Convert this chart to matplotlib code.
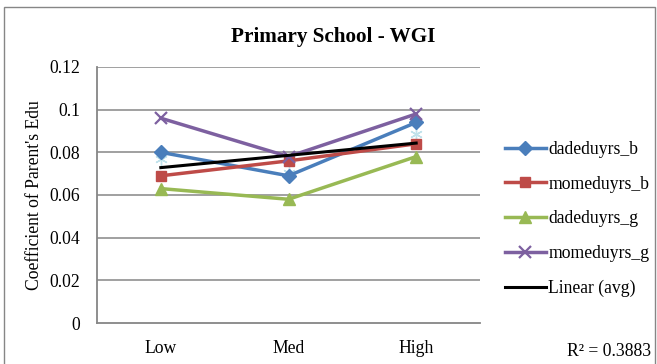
import numpy as np
import matplotlib
matplotlib.use("Agg")
import matplotlib.pyplot as plt
from matplotlib.patches import Rectangle

plt.rcParams['font.family'] = ['Liberation Serif', 'DejaVu Serif']

# Data
categories = ["Low", "Med", "High"]
dadeduyrs_b = [0.080, 0.069, 0.094]
momeduyrs_b = [0.069, 0.076, 0.084]
dadeduyrs_g = [0.063, 0.058, 0.078]
momeduyrs_g = [0.096, 0.078, 0.098]
series_names = ["dadeduyrs_b", "momeduyrs_b", "dadeduyrs_g", "momeduyrs_g"]
y_ticks = [0, 0.02, 0.04, 0.06, 0.08, 0.1, 0.12]
y_tick_labels = ["0", "0.02", "0.04", "0.06", "0.08", "0.1", "0.12"]

series = [dadeduyrs_b, momeduyrs_b, dadeduyrs_g, momeduyrs_g]
colors = ["#4A7EBB", "#BE4B48", "#98B954", "#7D60A0"]
markers = ["D", "s", "^", "x"]
msizes = [7, 7.5, 8.5, 9]

x = np.arange(1, len(categories) + 1)
avg = np.mean(np.array(series), axis=0)

# Linear trend on the average series
slope, intercept = np.polyfit(x, avg, 1)
trend = slope * x + intercept
ss_res = np.sum((avg - trend) ** 2)
ss_tot = np.sum((avg - avg.mean()) ** 2)
r2 = 1 - ss_res / ss_tot

FS = 12.7

fig = plt.figure(figsize=(6.57, 3.64), dpi=100)
ax = fig.add_axes([97 / 657, 41 / 364, 383 / 657, 256 / 364])

grid_color = "#868686"
for yt in y_ticks[1:]:
    ax.axhline(yt, color=grid_color, lw=1.1, zorder=0)

handles = []
for vals, name, c, m, ms in zip(series, series_names, colors, markers, msizes):
    mew = 1.6 if m == "x" else 1.0
    h, = ax.plot(x, vals, color=c, lw=2.5, marker=m, markersize=ms,
                 markeredgewidth=mew, markeredgecolor=c, label=name, zorder=3)
    handles.append(h)

# Average series shown only by faint markers
ax.plot(x, avg, linestyle="none", marker=(6, 2, 0), markersize=9,
        color="#4BACC6", alpha=0.35, markeredgewidth=1.0, zorder=2)

h_trend, = ax.plot(x, trend, color="black", lw=2.2, label="Linear (avg)", zorder=4)
handles.append(h_trend)

ax.set_xlim(0.5, len(categories) + 0.5)
ax.set_ylim(0, 0.12)
ax.set_xticks(x)
ax.set_xticklabels(categories, fontsize=FS)
ax.set_yticks(y_ticks)
ax.set_yticklabels(y_tick_labels, fontsize=FS)
ax.tick_params(axis="y", length=0, pad=12)
ax.tick_params(axis="x", length=0, pad=12)

for side in ["top", "right"]:
    ax.spines[side].set_visible(False)
for side in ["left", "bottom"]:
    ax.spines[side].set_color(grid_color)
    ax.spines[side].set_linewidth(1.3)

ax.set_ylabel("Coefficient of Parent's Edu", fontsize=FS)
ax.yaxis.set_label_coords(-54 / 383, 0.5)

fig.text(333 / 657, 1 - 37 / 364, "Primary School - WGI", fontsize=15.2,
         fontweight="bold", ha="center", va="center")

leg = fig.legend(handles=handles, loc="upper left",
                 bbox_to_anchor=(505 / 657, 1 - 141 / 364),
                 frameon=False, fontsize=FS, handlelength=2.3,
                 handletextpad=0.15, labelspacing=1.0, borderaxespad=0,
                 borderpad=0)

fig.text(651 / 657, 1 - 352 / 364, f"R² = {r2:.4f}", fontsize=FS,
         ha="right", va="center")

fig.add_artist(Rectangle((4 / 657, -0.01), 651 / 657, 1 - 7 / 364 + 0.01,
                         transform=fig.transFigure, fill=False,
                         edgecolor=grid_color, lw=1.0))

fig.savefig("out.png", dpi=100)
